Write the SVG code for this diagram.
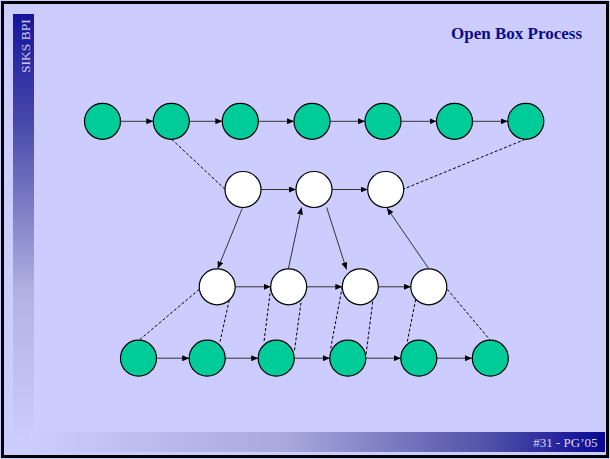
<svg xmlns="http://www.w3.org/2000/svg" width="610" height="459" viewBox="0 0 610 459">
<defs>
<linearGradient id="side" x1="0" y1="0" x2="0" y2="1">
<stop offset="0" stop-color="#14149C"/>
<stop offset="0.25" stop-color="#4848AA"/>
<stop offset="0.65" stop-color="#B2B2E2"/>
<stop offset="1" stop-color="#CCCCFF"/>
</linearGradient>
<linearGradient id="bar" x1="0" y1="0" x2="1" y2="0">
<stop offset="0" stop-color="#CCCCFF"/>
<stop offset="0.45" stop-color="#A8A8DC"/>
<stop offset="0.8" stop-color="#5050A8"/>
<stop offset="1" stop-color="#080896"/>
</linearGradient>
<marker id="ah" markerUnits="userSpaceOnUse" markerWidth="8" markerHeight="6" refX="7" refY="3" orient="auto">
<path d="M0,0 L7,3 L0,6 Z" fill="#000"/>
</marker>
<style>
.g{fill:#00CC99;stroke:#000;stroke-width:1.2}
.w{fill:#FFFFFF;stroke:#000;stroke-width:1.2}
.a{stroke:#333;stroke-width:1;fill:none;marker-end:url(#ah)}
.d{stroke:#000;stroke-width:1;fill:none;stroke-dasharray:3 2}
</style>
</defs>
<rect x="0" y="0" width="610" height="459" fill="#CCCCFF"/>
<rect x="13" y="14" width="21" height="430" fill="url(#side)"/>
<rect x="30" y="432" width="575" height="20" fill="url(#bar)"/>
<rect x="2.5" y="2.5" width="605" height="454" fill="none" stroke="#000" stroke-width="3"/>
<text transform="translate(30,73) rotate(-90)" font-family="Liberation Serif, serif" font-size="13.5" fill="#CCCCF0">SIKS BPI</text>
<text x="582" y="38.5" text-anchor="end" font-family="Liberation Serif, serif" font-size="17" font-weight="bold" fill="#0A0A8C">Open Box Process</text>
<text x="597.5" y="447" text-anchor="end" font-family="Liberation Serif, serif" font-size="13" fill="#D8D8F0">#31 - PG’05</text>
<g id="connectors">
<line class="a" x1="120.7" y1="121.3" x2="153.3" y2="121.3"/>
<line class="a" x1="189.3" y1="121.3" x2="222.3" y2="121.3"/>
<line class="a" x1="258.3" y1="121.3" x2="294" y2="121.3"/>
<line class="a" x1="330" y1="121.3" x2="365" y2="121.3"/>
<line class="a" x1="401" y1="121.3" x2="436.5" y2="121.3"/>
<line class="a" x1="472.5" y1="121.3" x2="507.8" y2="121.3"/>
<line class="d" x1="171.7" y1="139.3" x2="225" y2="189.3"/>
<line class="d" x1="525.3" y1="139.3" x2="403.7" y2="189"/>
<line class="a" x1="261" y1="189.5" x2="296" y2="189.5"/>
<line class="a" x1="332" y1="189.5" x2="367.7" y2="189.5"/>
<line class="a" x1="242.3" y1="208.3" x2="217.8" y2="268.5"/>
<line class="a" x1="288.3" y1="269" x2="301.5" y2="207.5"/>
<line class="a" x1="326.7" y1="207.5" x2="346.5" y2="269.5"/>
<line class="a" x1="429" y1="269" x2="387" y2="208"/>
<line class="a" x1="235.2" y1="286.8" x2="270.7" y2="286.8"/>
<line class="a" x1="306.7" y1="286.8" x2="342.3" y2="286.8"/>
<line class="a" x1="378.3" y1="286.8" x2="411" y2="286.8"/>
<line class="d" x1="199.3" y1="289.3" x2="139.3" y2="340"/>
<line class="d" x1="229.3" y1="300" x2="220" y2="341.7"/>
<line class="d" x1="270.7" y1="288.3" x2="264" y2="341.7"/>
<line class="d" x1="301" y1="302.7" x2="294.3" y2="351.7"/>
<line class="d" x1="342.3" y1="286.7" x2="330.7" y2="348.3"/>
<line class="d" x1="372.7" y1="301.7" x2="366" y2="355"/>
<line class="d" x1="415.7" y1="299.3" x2="407.3" y2="341.7"/>
<line class="d" x1="447.3" y1="289.3" x2="490" y2="340"/>
<line class="a" x1="156.5" y1="358.2" x2="189.2" y2="358.2"/>
<line class="a" x1="225.2" y1="358.2" x2="258.2" y2="358.2"/>
<line class="a" x1="294.2" y1="358.2" x2="329.8" y2="358.2"/>
<line class="a" x1="365.8" y1="358.2" x2="400.8" y2="358.2"/>
<line class="a" x1="436.8" y1="358.2" x2="472" y2="358.2"/>
</g>
<g id="t1"><circle class="g" cx="102.5" cy="121.3" r="18"/></g>
<g id="t2"><circle class="g" cx="171.3" cy="121.3" r="18"/></g>
<g id="t3"><circle class="g" cx="240.3" cy="121.3" r="18"/></g>
<g id="t4"><circle class="g" cx="312" cy="121.3" r="18"/></g>
<g id="t5"><circle class="g" cx="383" cy="121.3" r="18"/></g>
<g id="t6"><circle class="g" cx="454.5" cy="121.3" r="18"/></g>
<g id="t7"><circle class="g" cx="525.8" cy="121.3" r="18"/></g>
<g id="m1"><circle class="w" cx="243" cy="189.5" r="18"/></g>
<g id="m2"><circle class="w" cx="314" cy="189.5" r="18"/></g>
<g id="m3"><circle class="w" cx="385.7" cy="189.5" r="18"/></g>
<g id="n1"><circle class="w" cx="217.2" cy="286.8" r="18"/></g>
<g id="n2"><circle class="w" cx="288.7" cy="286.8" r="18"/></g>
<g id="n3"><circle class="w" cx="360.3" cy="286.8" r="18"/></g>
<g id="n4"><circle class="w" cx="428.8" cy="286.8" r="18"/></g>
<g id="b1"><circle class="g" cx="138.5" cy="358.2" r="18"/></g>
<g id="b2"><circle class="g" cx="207.2" cy="358.2" r="18"/></g>
<g id="b3"><circle class="g" cx="276.2" cy="358.2" r="18"/></g>
<g id="b4"><circle class="g" cx="347.8" cy="358.2" r="18"/></g>
<g id="b5"><circle class="g" cx="418.8" cy="358.2" r="18"/></g>
<g id="b6"><circle class="g" cx="490.3" cy="358.2" r="18"/></g>
</svg>
